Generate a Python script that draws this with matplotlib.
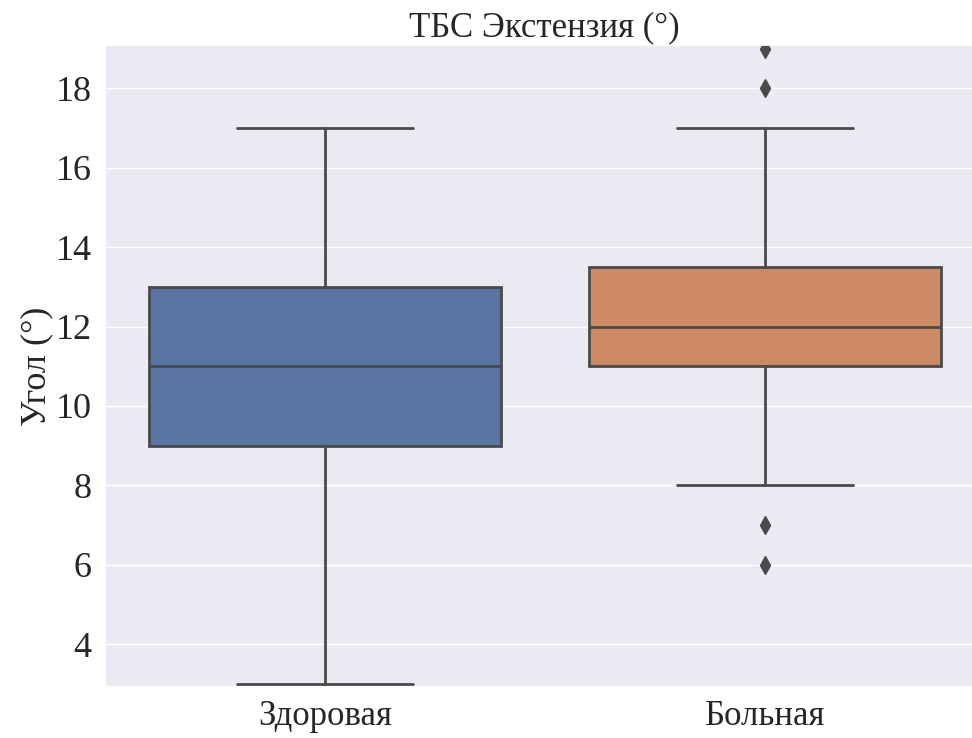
import numpy as np
import matplotlib
matplotlib.use("Agg")
import matplotlib.pyplot as plt
import seaborn as sns

# Box statistics for hip extension angle, per group
groups = ["Здоровая", "Больная"]
whisker_low = [3, 8]
q1 = [9, 11]
medians = [11, 12]
q3 = [13, 13.5]
whisker_high = [17, 17]
outliers = [[], [6, 7, 18, 19]]

sns.set_theme(style="darkgrid")
plt.rcParams["font.family"] = ["Liberation Serif", "DejaVu Serif"]

palette = sns.color_palette("deep", desat=0.75)
line_color = "#4a4a4a"

fig = plt.figure(figsize=(9.72, 7.38), dpi=100)
ax = fig.add_axes([0.108, 0.069, 0.905, 0.870])

stats = []
for i, name in enumerate(groups):
    stats.append(dict(label=name, whislo=whisker_low[i], q1=q1[i], med=medians[i],
                      q3=q3[i], whishi=whisker_high[i], fliers=outliers[i]))

bp = ax.bxp(stats, positions=range(len(groups)), widths=0.8, capwidths=0.4,
            patch_artist=True, showfliers=True,
            boxprops=dict(edgecolor=line_color, linewidth=2),
            whiskerprops=dict(color=line_color, linewidth=2),
            capprops=dict(color=line_color, linewidth=2),
            medianprops=dict(color=line_color, linewidth=2),
            flierprops=dict(marker="d", markersize=9, markerfacecolor=line_color,
                            markeredgecolor=line_color))
for patch, color in zip(bp["boxes"], palette):
    patch.set_facecolor(color)

ax.set_xlim(-0.5, 1.5)
ax.set_ylim(2.92, 19.09)
ax.set_yticks([4, 6, 8, 10, 12, 14, 16, 18])
ax.set_xticks(range(len(groups)))
ax.set_xticklabels(groups)
ax.xaxis.grid(False)
ax.tick_params(axis="y", labelsize=26)
ax.tick_params(axis="x", labelsize=25)
ax.set_ylabel("Угол (°)", fontsize=26, labelpad=2)
ax.set_title("ТБС Экстензия (°)", fontsize=25, pad=6)

fig.savefig("out.png", dpi=100)
